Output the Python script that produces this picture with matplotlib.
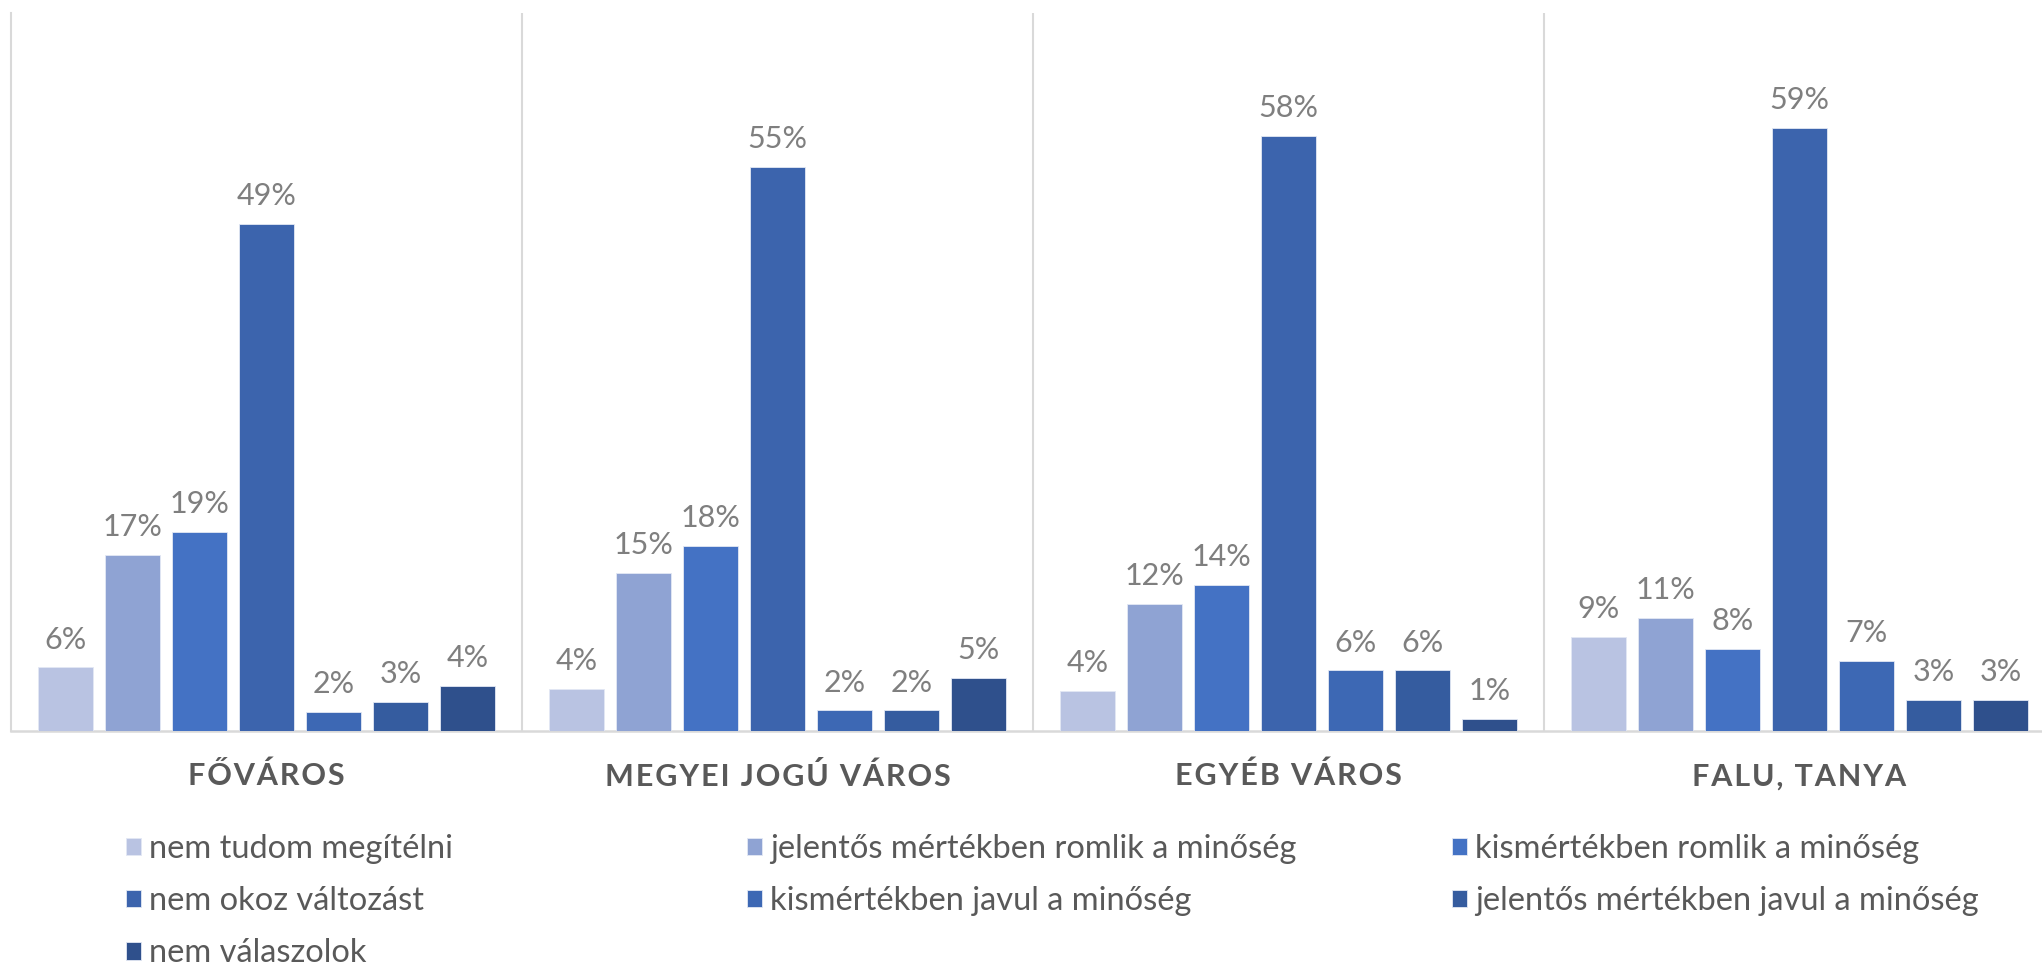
import numpy as np
import matplotlib
matplotlib.use('Agg')
import matplotlib.pyplot as plt

plt.rcParams['font.family'] = ['Lato', 'DejaVu Sans']

# 数据
groups = ['FŐVÁROS', 'MEGYEI JOGÚ VÁROS', 'EGYÉB VÁROS', 'FALU, TANYA']
series = ['nem tudom megítélni',
          'jelentős mértékben romlik a minőség',
          'kismértékben romlik a minőség',
          'nem okoz változást',
          'kismértékben javul a minőség',
          'jelentős mértékben javul a minőség',
          'nem válaszolok']
# values per series, one per group (%)
nem_tudom = [6.2, 4.1, 3.9, 9.2]
jelentos_romlik = [17.2, 15.4, 12.4, 11.0]
kis_romlik = [19.4, 18.0, 14.2, 8.0]
nem_okoz = [49.4, 55.0, 58.0, 58.8]
kis_javul = [1.9, 2.0, 5.9, 6.8]
jelentos_javul = [2.8, 2.0, 5.9, 3.0]
nem_valaszol = [4.4, 5.2, 1.2, 3.0]
values = [nem_tudom, jelentos_romlik, kis_romlik, nem_okoz,
          kis_javul, jelentos_javul, nem_valaszol]

colors = ['#B9C3E2', '#8FA3D3', '#4472C4', '#3C64AD',
          '#3D68B4', '#355C9F', '#2F508C']

W, H = 2042, 968
fig = plt.figure(figsize=(W / 100, H / 100), dpi=100)
ax = fig.add_axes([11 / W, 237 / H, 2044 / W, 718 / H])

pitch = 0.131
bw = 0.108
x = np.arange(len(groups)) + 0.5
bars_all = []
for j, (vals, col) in enumerate(zip(values, colors)):
    b = ax.bar(x + (j - 3) * pitch, vals, width=bw, color=col,
               edgecolor='#E3E8F4', linewidth=0.6, label=series[j], zorder=3)
    bars_all.append(b)
    for rect, v in zip(b, vals):
        ax.annotate(f'{v:.0f}%', (rect.get_x() + rect.get_width() / 2, v),
                    xytext=(0, 10), textcoords='offset points',
                    ha='center', va='bottom', fontsize=22, color='#7F7F7F')

ax.set_xlim(0, 4)
ax.set_ylim(0, 70)
for s in ['top', 'right']:
    ax.spines[s].set_visible(False)
ax.spines['left'].set_color('#D9D9D9')
ax.spines['left'].set_linewidth(1.5)
ax.spines['bottom'].set_color('#D9D9D9')
ax.spines['bottom'].set_linewidth(1.8)
for g in range(1, len(groups)):
    ax.axvline(g, color='#D9D9D9', linewidth=1.5, zorder=1)
ax.set_xticks([])
ax.set_yticks([])

# group labels, letter spaced
for xi, g in zip(x, groups):
    spaced = '\u200a'.join(g)
    ax.text(xi, -4.4, spaced, ha='center', va='center', fontsize=22,
            fontweight='bold', color='#595959',
            family=['Lato', 'DejaVu Sans'])

# legend in three columns, placed like the original
handles = [b for b in bars_all]
col_idx = [[0, 3, 6], [1, 4], [2, 5]]
col_x = [126, 747, 1452]
for idx, cx in zip(col_idx, col_x):
    leg = fig.legend([handles[i] for i in idx], [series[i] for i in idx],
                     loc='upper left', bbox_to_anchor=(cx / W, 1 - 834 / H),
                     frameon=False, fontsize=23.5, labelcolor='#595959',
                     handlelength=0.46, handleheight=0.46, handletextpad=0.25,
                     labelspacing=0.68, borderpad=0, borderaxespad=0)

fig.savefig('out.png', dpi=100)
